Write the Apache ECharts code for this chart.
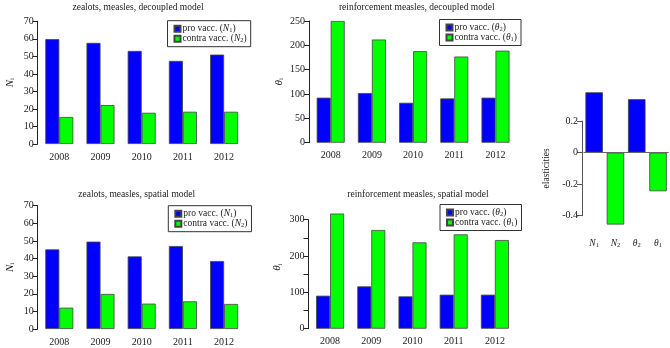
<!DOCTYPE html>
<html>
<head>
<meta charset="utf-8">
<script src="https://cdn.jsdelivr.net/npm/echarts@6/dist/echarts.min.js"></script>
<style>
  html, body { margin: 0; padding: 0; background: #fff; }
  #chart { width: 670px; height: 348px; }
</style>
</head>
<body>
<div id="chart"></div>
<script>
const years = ['2008', '2009', '2010', '2011', '2012']
const decN1 = [59.8, 57.7, 53.1, 47.4, 51.0]
const decN2 = [15.4, 22.2, 17.8, 18.4, 18.4]
const decTh2 = [92.5, 102, 82, 91, 92.5]
const decTh1 = [250, 212, 188, 177, 189]
const spaN1 = [45.2, 49.6, 41.2, 47.1, 38.6]
const spaN2 = [12.1, 19.9, 14.4, 15.7, 14.2]
const spaTh2 = [90.8, 116.5, 89, 93.6, 93.6]
const spaTh1 = [317, 271.6, 237.6, 259.6, 244]
const elastNames = ['N1', 'N2', 'th2', 'th1']
const elastValues = [0.382, -0.456, 0.338, -0.245]

const BLUE = '#0000ff'
const GREEN = '#00ff00'
const FONT = 'Liberation Serif'
const INK = '#222'

const rich = {
  t: { fontFamily: FONT, fontSize: 9.5, color: INK, lineHeight: 10 },
  i: { fontFamily: FONT, fontSize: 9.5, fontStyle: 'italic', color: INK, lineHeight: 10 },
  s: { fontFamily: FONT, fontSize: 6.5, color: INK, lineHeight: 6.5, verticalAlign: 'bottom' },
}
// slightly larger symbols for the axis names
const nameRich = {
  i: { fontFamily: FONT, fontSize: 11, fontStyle: 'italic', color: INK, lineHeight: 12 },
  s: { fontFamily: FONT, fontSize: 7, color: INK, lineHeight: 7, verticalAlign: 'bottom' },
}
const legendText = {
  proN: '{t|pro vacc. (}{i|N}{s|1}{t|)}',
  conN: '{t|contra vacc. (}{i|N}{s|2}{t|)}',
  proTh: '{t|pro vacc. (}{i|θ}{s|2}{t|)}',
  conTh: '{t|contra vacc. (}{i|θ}{s|1}{t|)}',
}
const elastText = {
  N1: '{i|N}{s|1}',
  N2: '{i|N}{s|2}',
  th2: '{i|θ}{s|2}',
  th1: '{i|θ}{s|1}',
}

const grids = [
  { left: 38.7, top: 21.3, width: 206, height: 122.7 },
  { left: 310.1, top: 21, width: 206, height: 121.7 },
  { left: 38.7, top: 205.7, width: 206, height: 123.3 },
  { left: 309.5, top: 219.7, width: 206, height: 109 },
  { left: 583.5, top: 121, width: 85.2, height: 94.7 },
]

function yearAxis(gi) {
  return {
    type: 'category', gridIndex: gi, data: years,
    axisLine: { show: false }, axisTick: { show: false },
    axisLabel: { margin: 8, fontFamily: FONT, fontSize: 10, color: INK },
  }
}

function valueAxis(gi, max, interval, name, gap, fmt, namePad) {
  return {
    type: 'value', gridIndex: gi, min: 0, max: max, interval: interval,
    offset: 1,
    splitLine: { show: false },
    axisLine: { show: true, lineStyle: { color: INK, width: 1 } },
    axisTick: { show: true, length: 5, lineStyle: { color: INK } },
    axisLabel: { margin: 4, fontFamily: FONT, fontSize: 10, color: INK, formatter: fmt },
    name: name, nameLocation: 'middle', nameGap: gap,
    nameTextStyle: { rich: nameRich, padding: namePad || 0 },
  }
}

function bar(name, gi, data, color) {
  return {
    name: name, type: 'bar', xAxisIndex: gi, yAxisIndex: gi, data: data,
    barWidth: 14, barGap: '0%', clip: false,
    itemStyle: { color: color, borderColor: '#444', borderWidth: 0.8 },
  }
}

function legendBox(left, top, names) {
  return {
    left: left, top: top, orient: 'vertical', data: names,
    itemWidth: 6, itemHeight: 6, itemGap: 0,
    padding: [3, 4, 3, 6],
    borderColor: '#333', borderWidth: 1,
    icon: 'rect',
    formatter: (n) => legendText[n],
    textStyle: { rich: rich, padding: [0, 0, 0, -3] },
  }
}

function titleAt(text, x, y) {
  return {
    text: text, left: x, top: y, textAlign: 'center', padding: 0,
    textStyle: { fontFamily: FONT, fontSize: 9.5, fontWeight: 'normal', color: INK },
  }
}

const hundreds = (v) => (v % 100 === 0 ? String(v) : '')

const option = {
  animation: false,
  title: [
    titleAt('zealots, measles, decoupled model', 138, 2),
    titleAt('reinforcement measles, decoupled model', 416.7, 2),
    titleAt('zealots, measles, spatial model', 136.7, 189),
    titleAt('reinforcement measles, spatial model', 418, 189),
  ],
  legend: [
    legendBox(167.5, 20.7, ['proN', 'conN']),
    legendBox(439.5, 19.5, ['proTh', 'conTh']),
    legendBox(168.3, 205.7, ['proN', 'conN']),
    legendBox(440, 204.5, ['proTh', 'conTh']),
  ],
  grid: grids,
  xAxis: [
    yearAxis(0), yearAxis(1), yearAxis(2), yearAxis(3),
    {
      type: 'category', gridIndex: 4, data: elastNames,
      axisLine: { show: false, onZero: false }, axisTick: { show: false },
      axisLabel: {
        interval: 0,
        margin: 23,
        formatter: (n) => elastText[n],
        rich: rich,
      },
    },
  ],
  yAxis: [
    valueAxis(0, 70, 10, '{i|N}{s|i}', 22),
    valueAxis(1, 250, 50, '{i|θ}{s|i}', 24),
    valueAxis(2, 70, 10, '{i|N}{s|i}', 22),
    valueAxis(3, 300, 50, '{i|θ}{s|i}', 25, hundreds, [0, 0, 0, 14]),
    {
      type: 'value', gridIndex: 4, min: -0.4, max: 0.2, interval: 0.2,
      offset: 1.5,
      splitLine: { show: false },
      axisLine: { show: true, lineStyle: { color: '#555', width: 1 } },
      axisTick: { show: true, length: 5, lineStyle: { color: '#555' } },
      axisLabel: {
        margin: 4, fontFamily: FONT, fontSize: 10, color: INK,
        formatter: (v) => (v === 0 ? '0' : v.toFixed(1)),
      },
      name: 'elasticities', nameLocation: 'middle', nameGap: 31,
      nameTextStyle: { fontFamily: FONT, fontSize: 9.5, color: INK },
    },
  ],
  series: [
    bar('proN', 0, decN1, BLUE),
    bar('conN', 0, decN2, GREEN),
    bar('proTh', 1, decTh2, BLUE),
    bar('conTh', 1, decTh1, GREEN),
    bar('proN', 2, spaN1, BLUE),
    bar('conN', 2, spaN2, GREEN),
    bar('proTh', 3, spaTh2, BLUE),
    bar('conTh', 3, spaTh1, GREEN),
    {
      name: 'elasticities', type: 'bar', xAxisIndex: 4, yAxisIndex: 4,
      data: elastValues, barWidth: 17.5, clip: false,
      itemStyle: {
        color: (p) => (p.dataIndex % 2 ? GREEN : BLUE),
        borderColor: '#444', borderWidth: 0.8,
      },
      markLine: {
        silent: true, symbol: 'none', label: { show: false },
        lineStyle: { color: '#666', type: 'solid', width: 1 },
        data: [{ yAxis: 0 }],
      },
    },
  ],
}

const myChart = echarts.init(document.getElementById('chart'))
myChart.setOption(option)
</script>
</body>
</html>
